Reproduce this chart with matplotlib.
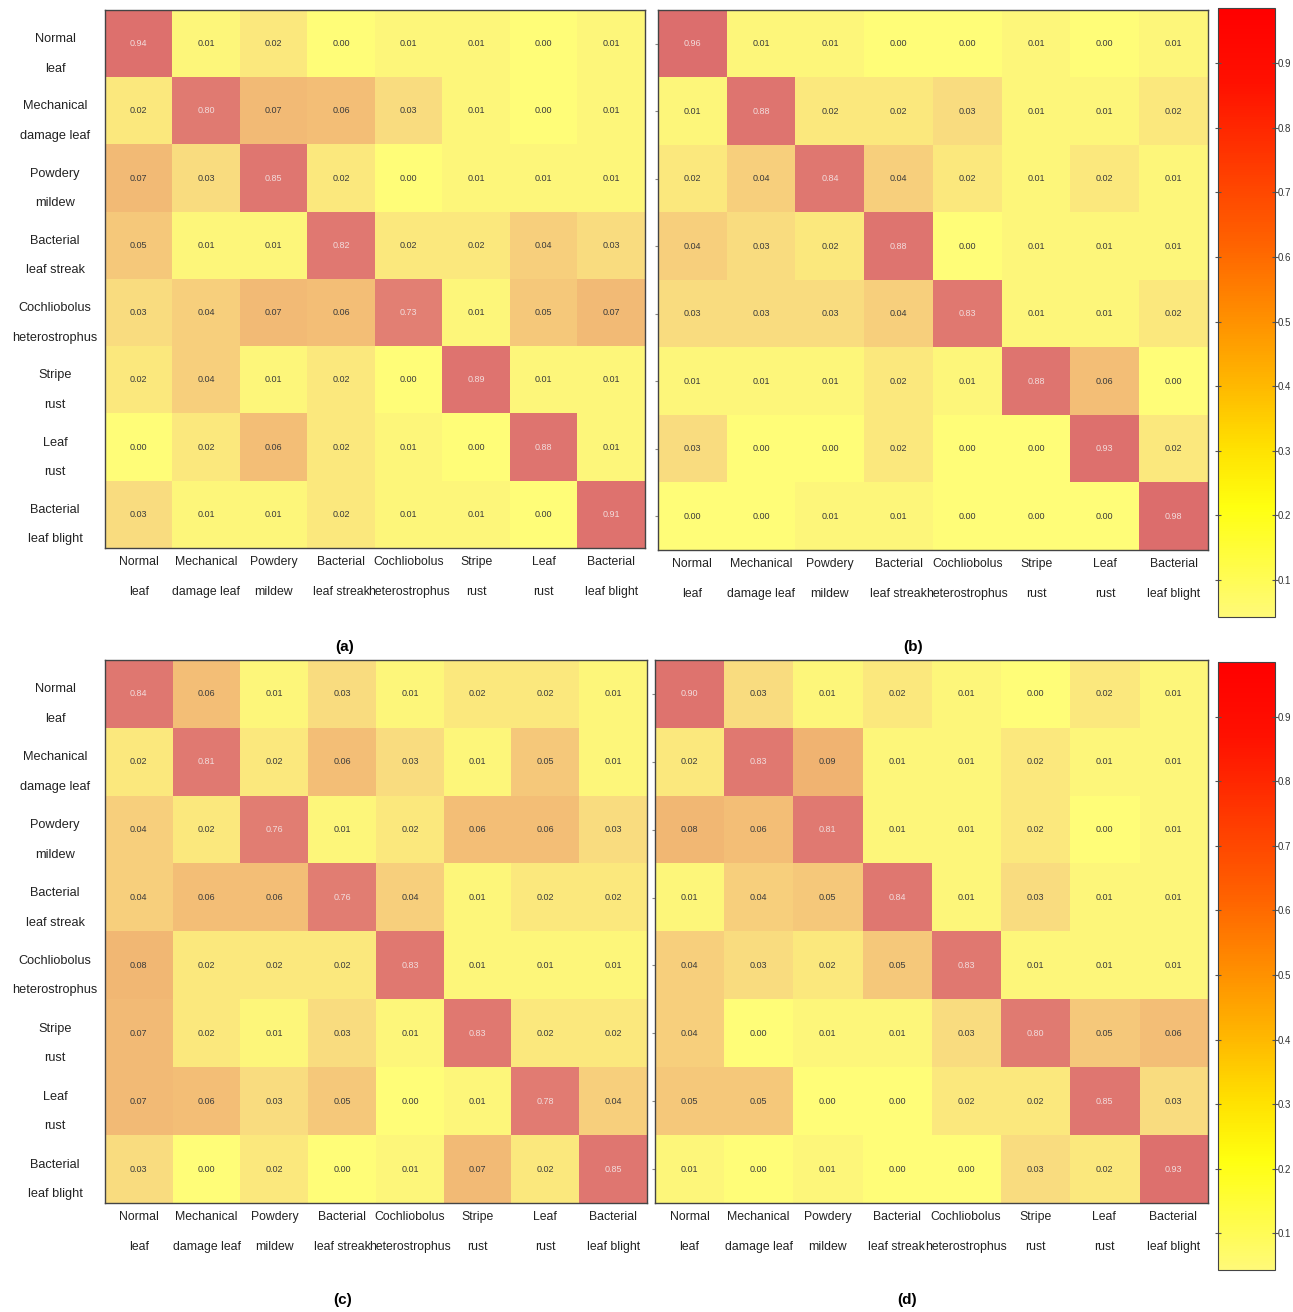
import numpy as np
import matplotlib
matplotlib.use("Agg")
import matplotlib.pyplot as plt
from matplotlib.colors import LinearSegmentedColormap, Normalize
from matplotlib.cm import ScalarMappable

plt.rcParams['font.family'] = ['Liberation Sans', 'DejaVu Sans']

# class names (two-line labels)
classes = ["Normal\nleaf", "Mechanical\ndamage leaf", "Powdery\nmildew", "Bacterial\nleaf streak",
           "Cochliobolus\nheterostrophus", "Stripe\nrust", "Leaf\nrust", "Bacterial\nleaf blight"]

# confusion matrices
cm_a = [[0.94, 0.01, 0.02, 0.00, 0.01, 0.01, 0.00, 0.01],
        [0.02, 0.80, 0.07, 0.06, 0.03, 0.01, 0.00, 0.01],
        [0.07, 0.03, 0.85, 0.02, 0.00, 0.01, 0.01, 0.01],
        [0.05, 0.01, 0.01, 0.82, 0.02, 0.02, 0.04, 0.03],
        [0.03, 0.04, 0.07, 0.06, 0.73, 0.01, 0.05, 0.07],
        [0.02, 0.04, 0.01, 0.02, 0.00, 0.89, 0.01, 0.01],
        [0.00, 0.02, 0.06, 0.02, 0.01, 0.00, 0.88, 0.01],
        [0.03, 0.01, 0.01, 0.02, 0.01, 0.01, 0.00, 0.91]]

cm_b = [[0.96, 0.01, 0.01, 0.00, 0.00, 0.01, 0.00, 0.01],
        [0.01, 0.88, 0.02, 0.02, 0.03, 0.01, 0.01, 0.02],
        [0.02, 0.04, 0.84, 0.04, 0.02, 0.01, 0.02, 0.01],
        [0.04, 0.03, 0.02, 0.88, 0.00, 0.01, 0.01, 0.01],
        [0.03, 0.03, 0.03, 0.04, 0.83, 0.01, 0.01, 0.02],
        [0.01, 0.01, 0.01, 0.02, 0.01, 0.88, 0.06, 0.00],
        [0.03, 0.00, 0.00, 0.02, 0.00, 0.00, 0.93, 0.02],
        [0.00, 0.00, 0.01, 0.01, 0.00, 0.00, 0.00, 0.98]]

cm_c = [[0.84, 0.06, 0.01, 0.03, 0.01, 0.02, 0.02, 0.01],
        [0.02, 0.81, 0.02, 0.06, 0.03, 0.01, 0.05, 0.01],
        [0.04, 0.02, 0.76, 0.01, 0.02, 0.06, 0.06, 0.03],
        [0.04, 0.06, 0.06, 0.76, 0.04, 0.01, 0.02, 0.02],
        [0.08, 0.02, 0.02, 0.02, 0.83, 0.01, 0.01, 0.01],
        [0.07, 0.02, 0.01, 0.03, 0.01, 0.83, 0.02, 0.02],
        [0.07, 0.06, 0.03, 0.05, 0.00, 0.01, 0.78, 0.04],
        [0.03, 0.00, 0.02, 0.00, 0.01, 0.07, 0.02, 0.85]]

cm_d = [[0.90, 0.03, 0.01, 0.02, 0.01, 0.00, 0.02, 0.01],
        [0.02, 0.83, 0.09, 0.01, 0.01, 0.02, 0.01, 0.01],
        [0.08, 0.06, 0.81, 0.01, 0.01, 0.02, 0.00, 0.01],
        [0.01, 0.04, 0.05, 0.84, 0.01, 0.03, 0.01, 0.01],
        [0.04, 0.03, 0.02, 0.05, 0.83, 0.01, 0.01, 0.01],
        [0.04, 0.00, 0.01, 0.01, 0.03, 0.80, 0.05, 0.06],
        [0.05, 0.05, 0.00, 0.00, 0.02, 0.02, 0.85, 0.03],
        [0.01, 0.00, 0.01, 0.00, 0.00, 0.03, 0.02, 0.93]]

cbar_ticks = [0.1, 0.2, 0.3, 0.4, 0.5, 0.6, 0.7, 0.8, 0.9]

# muted palette used for the cells
cell_cmap = LinearSegmentedColormap.from_list(
    "cells", [(0.0, "#fffd78"), (0.015, "#fdf07c"), (0.03, "#f9d880"),
              (0.06, "#f3bd76"), (0.10, "#f0b070"), (0.5, "#e8907a"), (1.0, "#dc6c6c")])
# bright palette of the colour bar
bar_cmap = LinearSegmentedColormap.from_list(
    "bar", [(0.0, "#fffa78"), (0.18, "#ffff10"), (0.28, "#ffe000"), (0.38, "#ffb800"),
            (0.5, "#ff8c00"), (0.62, "#ff6000"), (0.75, "#ff3800"), (0.88, "#ff1000"), (1.0, "#ff0000")])

W, H = 1293, 1312
fig = plt.figure(figsize=(W / 100, H / 100), dpi=100)
fig.patch.set_facecolor("white")


def px(l, t, r, b):
    return [l / W, 1 - b / H, (r - l) / W, (b - t) / H]


def draw_cm(rect, data, ylabels):
    ax = fig.add_axes(rect)
    m = np.array(data)
    n = len(classes)
    ax.imshow(m, cmap=cell_cmap, norm=Normalize(0, 1), aspect="auto", interpolation="nearest")
    for i in range(n):
        for j in range(n):
            col = "#f2dcdc" if i == j else "#3a3a3a"
            ax.text(j, i, "%.2f" % m[i, j], ha="center", va="center", fontsize=6.5, color=col)
    ax.set_xticks(range(n))
    ax.set_xticklabels(classes, fontsize=8.8, linespacing=2.95, color="#222222")
    ax.set_yticks(range(n))
    if ylabels:
        ax.set_yticklabels(classes, fontsize=9.2, linespacing=2.95, color="#222222", ha="center")
        ax.tick_params(axis="y", pad=36, length=0)
    else:
        ax.set_yticklabels([])
        ax.tick_params(axis="y", length=2, color="#888888")
    ax.tick_params(axis="x", length=0, pad=6)
    for s in ax.spines.values():
        s.set_color("#444444")
        s.set_linewidth(1.0)
    return ax


def draw_bar(rect):
    cax = fig.add_axes(rect)
    sm = ScalarMappable(norm=Normalize(0.043, 0.985), cmap=bar_cmap)
    cb = fig.colorbar(sm, cax=cax)
    cb.set_ticks(cbar_ticks)
    cb.set_ticklabels(["%.1f" % t for t in cbar_ticks])
    cax.yaxis.set_ticks_position("both")
    cax.tick_params(labelsize=7, length=4, direction="inout", colors="#555555",
                    labelcolor="#333333", pad=0)
    cb.outline.set_edgecolor("#444444")
    return cb


draw_cm(px(105, 10, 645, 548), cm_a, True)
draw_cm(px(658, 10, 1208, 550), cm_b, False)
draw_cm(px(105, 660, 647, 1203), cm_c, True)
draw_cm(px(655, 660, 1208, 1203), cm_d, False)
draw_bar(px(1218, 8, 1275, 617))
draw_bar(px(1218, 662, 1275, 1270))

for lab, x, y in [("(a)", 345, 647), ("(b)", 913, 647), ("(c)", 343, 1300), ("(d)", 907, 1300)]:
    fig.text(x / W, 1 - y / H, lab, ha="center", va="center", fontsize=11, fontweight="bold")

fig.savefig("out.png", dpi=100)
